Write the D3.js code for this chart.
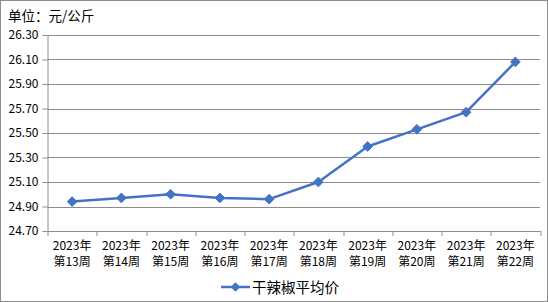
<!DOCTYPE html>
<html>
<head>
<meta charset="utf-8">
<script src="https://cdn.jsdelivr.net/npm/d3@7/dist/d3.min.js"></script>
<style>
  body { margin: 0; background: #fff; }
  svg text { font-family: "SimSun", "Noto Sans CJK SC", sans-serif; fill: #000; }
</style>
</head>
<body>
<div id="chart"></div>
<script>
// data
var years = ['2023年', '2023年', '2023年', '2023年', '2023年', '2023年', '2023年', '2023年', '2023年', '2023年'];
var weeks = ['第13周', '第14周', '第15周', '第16周', '第17周', '第18周', '第19周', '第20周', '第21周', '第22周'];
var prices = [24.94, 24.97, 25.00, 24.97, 24.96, 25.10, 25.39, 25.53, 25.67, 26.08];
var yTicks = [24.70, 24.90, 25.10, 25.30, 25.50, 25.70, 25.90, 26.10, 26.30];
var seriesName = '干辣椒平均价';

var svgWidth = 548;
var svgHeight = 302;
var margin = { top: 35, right: 8, bottom: 71, left: 47.5 };
var width = svgWidth - margin.left - margin.right;
var height = svgHeight - margin.top - margin.bottom;

var svg = d3.select('#chart')
    .append('svg')
    .attr('width', svgWidth)
    .attr('height', svgHeight);

// outer border
svg.append('rect')
    .attr('x', 0.5).attr('y', 0.5)
    .attr('width', svgWidth - 1).attr('height', svgHeight - 1)
    .attr('fill', '#fff')
    .attr('stroke', '#8c8c8c');

svg.append('text')
    .attr('x', 8).attr('y', 21)
    .style('font-size', '13.5px')
    .text('单位：元/公斤');

var chartGroup = svg.append('g')
    .attr('transform', `translate(${margin.left}, ${margin.top})`);

var xScale = d3.scaleBand()
    .domain(weeks)
    .range([0, width]);

var yScale = d3.scaleLinear()
    .domain([24.70, 26.30])
    .range([height, 0]);

// gridlines
chartGroup.append('g')
    .selectAll('line')
    .data(yTicks)
    .enter()
    .append('line')
    .attr('x1', 0).attr('x2', width)
    .attr('y1', d => Math.round(yScale(d)) + 0.5)
    .attr('y2', d => Math.round(yScale(d)) + 0.5)
    .attr('stroke', '#8c8c8c')
    .attr('stroke-width', 1);

// y axis
var leftAxis = d3.axisLeft(yScale)
    .tickValues(yTicks)
    .tickFormat(d3.format('.2f'))
    .tickSize(5)
    .tickPadding(4);

var yAxis = chartGroup.append('g').call(leftAxis);
yAxis.select('.domain').attr('stroke', '#8c8c8c').attr('d', `M0.5,0V${height}`);
yAxis.selectAll('.tick line').attr('stroke', '#8c8c8c');
yAxis.selectAll('text')
    .style('font-size', '12px')
    .attr('font-family', null);

// x axis
var bottomAxis = d3.axisBottom(xScale).tickSize(0).tickFormat('');
var xAxis = chartGroup.append('g')
    .attr('transform', `translate(0, ${height})`)
    .call(bottomAxis);
xAxis.select('.domain').attr('stroke', '#8c8c8c');

// category boundary ticks
chartGroup.append('g')
    .selectAll('line')
    .data(d3.range(weeks.length + 1))
    .enter()
    .append('line')
    .attr('x1', i => Math.round(i * xScale.step()) + 0.5)
    .attr('x2', i => Math.round(i * xScale.step()) + 0.5)
    .attr('y1', height).attr('y2', height + 5)
    .attr('stroke', '#8c8c8c');

var xLabels = chartGroup.append('g')
    .selectAll('text')
    .data(weeks)
    .enter()
    .append('text')
    .attr('text-anchor', 'middle')
    .style('font-size', '12px');

xLabels.append('tspan')
    .attr('x', d => xScale(d) + xScale.bandwidth() / 2)
    .attr('y', height + 19)
    .text((d, i) => years[i]);
xLabels.append('tspan')
    .attr('x', d => xScale(d) + xScale.bandwidth() / 2)
    .attr('y', height + 35)
    .text(d => d);

// line
var line = d3.line()
    .x((d, i) => xScale(weeks[i]) + xScale.bandwidth() / 2)
    .y(d => yScale(d));

chartGroup.append('path')
    .datum(prices)
    .attr('d', line)
    .attr('fill', 'none')
    .attr('stroke', '#4472C4')
    .attr('stroke-width', 2.5)
    .attr('stroke-linejoin', 'round');

var diamond = d3.symbol().type(d3.symbolDiamond2).size(60);

chartGroup.selectAll('.pt')
    .data(prices)
    .enter()
    .append('path')
    .attr('class', 'pt')
    .attr('d', diamond)
    .attr('transform', (d, i) => `translate(${xScale(weeks[i]) + xScale.bandwidth() / 2}, ${yScale(d)})`)
    .attr('fill', '#4472C4')
    .attr('stroke', '#4472C4');

// legend
var legend = svg.append('g').attr('transform', 'translate(221, 287)');
legend.append('line')
    .attr('x1', 0).attr('x2', 29)
    .attr('y1', 0).attr('y2', 0)
    .attr('stroke', '#4472C4')
    .attr('stroke-width', 2.5);
legend.append('path')
    .attr('d', diamond)
    .attr('transform', 'translate(14.5, 0)')
    .attr('fill', '#4472C4');
legend.append('text')
    .attr('x', 31).attr('y', 5.5)
    .style('font-size', '14.5px')
    .text(seriesName);
</script>
</body>
</html>
